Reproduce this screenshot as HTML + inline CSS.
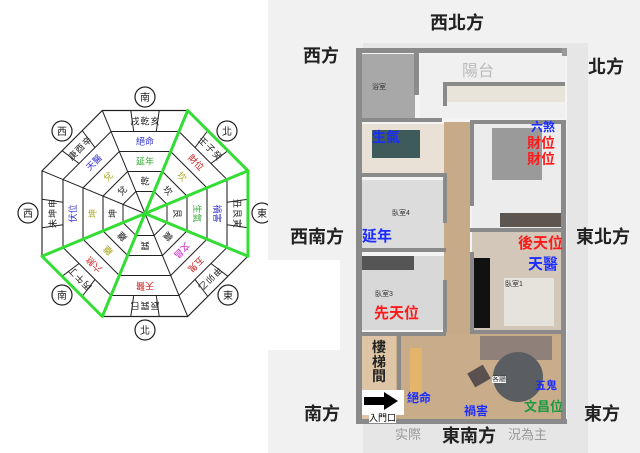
<!DOCTYPE html>
<html><head><meta charset="utf-8"><style>
*{margin:0;padding:0;box-sizing:border-box}
body{width:640px;height:453px;position:relative;overflow:hidden;background:#fff;font-family:"Liberation Sans","Noto Sans CJK TC",sans-serif}
.a{position:absolute}
.t{position:absolute;white-space:nowrap;line-height:1}
.w{position:absolute;background:#8a8a8a}
.dir{font-size:18px;color:#222;font-weight:bold}
.b{color:#1a2cff;font-weight:bold}
.r{color:#ff1a1a;font-weight:bold}
</style></head><body>
<svg class="a" style="left:0;top:0" width="270" height="453">
<defs>
<polygon id="oct" points="0.4142,-1 1,-0.4142 1,0.4142 0.4142,1 -0.4142,1 -1,0.4142 -1,-0.4142 -0.4142,-1"/>
<g id="side">
<line x1="-11.3" y1="-82" x2="-14.2" y2="-103" stroke="#222" stroke-width="1"/>
<line x1="11.3" y1="-82" x2="14.2" y2="-103" stroke="#222" stroke-width="1"/>
</g>
</defs>
<g transform="translate(145,213.5)" fill="none" stroke="#222">
<use href="#oct" transform="scale(103)" stroke-width="0.011"/>
<use href="#oct" transform="scale(82)" stroke-width="0.013"/>
<use href="#oct" transform="scale(62)" stroke-width="0.017"/>
<use href="#oct" transform="scale(42)" stroke-width="0.025"/>
<use href="#oct" transform="scale(22)" stroke-width="0.045"/>
<g stroke-width="1">
<line x1="0" y1="0" x2="42.7" y2="-103"/><line x1="0" y1="0" x2="103" y2="-42.7"/>
<line x1="0" y1="0" x2="103" y2="42.7"/><line x1="0" y1="0" x2="42.7" y2="103"/>
<line x1="0" y1="0" x2="-42.7" y2="103"/><line x1="0" y1="0" x2="-103" y2="42.7"/>
<line x1="0" y1="0" x2="-103" y2="-42.7"/><line x1="0" y1="0" x2="-42.7" y2="-103"/>
</g>
<use href="#side"/><use href="#side" transform="rotate(45)"/><use href="#side" transform="rotate(90)"/><use href="#side" transform="rotate(135)"/>
<use href="#side" transform="rotate(180)"/><use href="#side" transform="rotate(225)"/><use href="#side" transform="rotate(270)"/><use href="#side" transform="rotate(315)"/>
</g>
<g transform="translate(145,213.5)" font-size="9" text-anchor="middle" fill="#222" font-family="Noto Sans CJK TC,sans-serif">
<g transform="rotate(0)"><text x="-10" y="-89">戌</text><text x="0" y="-89">乾</text><text x="10" y="-89">亥</text><text y="-69" fill="#33c">絕命</text><text y="-49" fill="#3a3">延年</text><text y="-29">乾</text></g>
<g transform="rotate(45)"><text x="-10" y="-89">壬</text><text x="0" y="-89">子</text><text x="10" y="-89">癸</text><text y="-69" fill="#c22">財位</text><text y="-49" fill="#aa2">坎</text><text y="-29">坎</text></g>
<g transform="rotate(90)"><text x="-10" y="-89">丑</text><text x="0" y="-89">艮</text><text x="10" y="-89">寅</text><text y="-69" fill="#33c">禍害</text><text y="-49" fill="#3a3">生氣</text><text y="-29">艮</text></g>
<g transform="rotate(135)"><text x="-10" y="-89">甲</text><text x="0" y="-89">卯</text><text x="10" y="-89">乙</text><text y="-69" fill="#c22">五鬼</text><text y="-49" fill="#c2c">文昌</text><text y="-29">震</text></g>
<g transform="rotate(180)"><text x="-10" y="-89">辰</text><text x="0" y="-89">巽</text><text x="10" y="-89">巳</text><text y="-69" fill="#c22">天醫</text><text y="-29">巽</text></g>
<g transform="rotate(225)"><text x="-10" y="-89">丙</text><text x="0" y="-89">午</text><text x="10" y="-89">丁</text><text y="-69" fill="#c22">六煞</text><text y="-49" fill="#aa2">離</text><text y="-29">離</text></g>
<g transform="rotate(270)"><text x="-10" y="-89">未</text><text x="0" y="-89">坤</text><text x="10" y="-89">申</text><text y="-69" fill="#33c">伏位</text><text y="-49" fill="#aa2">坤</text><text y="-29">坤</text></g>
<g transform="rotate(315)"><text x="-10" y="-89">庚</text><text x="0" y="-89">酉</text><text x="10" y="-89">辛</text><text y="-69" fill="#33c">天醫</text><text y="-49" fill="#aa2">兌</text><text y="-29">兌</text></g>
</g>
<g fill="#fff" stroke="#222" stroke-width="1.2" font-size="10" text-anchor="middle" font-family="Noto Sans CJK TC,sans-serif">
<circle cx="145" cy="97" r="10"/><circle cx="227" cy="131" r="10"/><circle cx="262" cy="213" r="10"/><circle cx="228" cy="295" r="10"/>
<circle cx="145" cy="330" r="10"/><circle cx="62" cy="295" r="10"/><circle cx="28" cy="213" r="10"/><circle cx="62" cy="131" r="10"/>
</g>
<g font-size="10" text-anchor="middle" fill="#222" font-family="Noto Sans CJK TC,sans-serif">
<text x="145" y="101">南</text><text x="227" y="135">北</text><text x="262" y="217">東</text><text x="228" y="299">東</text>
<text x="145" y="334">北</text><text x="62" y="299">南</text><text x="28" y="217">西</text><text x="62" y="135">西</text>
</g>
<polyline points="145,213.5 187.7,110.5 248,170.8 145,213.5 248,256.2 248,170.8" fill="none" stroke="#3d3" stroke-width="3" stroke-linejoin="round"/>
<polyline points="145,213.5 42,256.2 102.3,316.5 145,213.5" fill="none" stroke="#3d3" stroke-width="3" stroke-linejoin="round"/>
</svg>

<div class="a" style="left:268px;top:0;width:372px;height:453px;background:#f1f1f1"></div>
<div class="a" style="left:268px;top:260px;width:72px;height:90px;background:#fff"></div>
<div class="a" style="left:363px;top:43px;width:225px;height:410px;background:#e6e6e6"></div>
<div class="a" style="left:356px;top:48px;width:211px;height:375px;background:#f4f4f4"></div>

<!-- floors -->
<div class="a" style="left:362px;top:54px;width:53px;height:64px;background:#a8a8a8"></div>
<div class="a" style="left:420px;top:54px;width:145px;height:64px;background:#f0f0f0"></div>
<div class="a" style="left:445px;top:84px;width:120px;height:18px;background:#e8e4da"></div>
<div class="a" style="left:362px;top:124px;width:83px;height:50px;background:#e9e1d6"></div>
<div class="a" style="left:372px;top:130px;width:48px;height:28px;background:#3f5a5a"></div>
<div class="a" style="left:362px;top:180px;width:82px;height:68px;background:#dcdcdc"></div>
<div class="a" style="left:362px;top:256px;width:82px;height:74px;background:#d8d8d8"></div>
<div class="a" style="left:362px;top:256px;width:52px;height:14px;background:#555"></div>
<div class="a" style="left:444px;top:122px;width:26px;height:212px;background:#c7ab88"></div>
<div class="a" style="left:362px;top:334px;width:203px;height:86px;background:#c9ad8b"></div>
<div class="a" style="left:362px;top:336px;width:34px;height:84px;background:#ddc5a5"></div>
<div class="a" style="left:472px;top:122px;width:93px;height:108px;background:#ececec"></div>
<div class="a" style="left:492px;top:128px;width:50px;height:52px;background:#9a9a9a"></div>
<div class="a" style="left:500px;top:213px;width:62px;height:14px;background:#5c5550"></div>
<div class="a" style="left:472px;top:232px;width:93px;height:98px;background:#d3c7ba"></div>
<div class="a" style="left:474px;top:258px;width:16px;height:70px;background:#111"></div>
<div class="a" style="left:504px;top:278px;width:50px;height:48px;background:#e6e2dc"></div>
<div class="a" style="left:480px;top:336px;width:72px;height:24px;background:#8f817a"></div>
<div class="a" style="left:462px;top:352px;width:50px;height:50px;border-radius:50%;background:#5a5d62;left:493px"></div>
<div class="a" style="left:470px;top:368px;width:18px;height:16px;background:#5a5050;transform:rotate(-30deg)"></div>
<div class="a" style="left:410px;top:348px;width:12px;height:45px;background:#e5b46b"></div>

<!-- walls -->
<div class="w" style="left:356px;top:48px;width:211px;height:5px"></div>
<div class="w" style="left:356px;top:48px;width:6px;height:375px"></div>
<div class="w" style="left:356px;top:419px;width:211px;height:5px"></div>
<div class="w" style="left:562px;top:48px;width:5px;height:8px;background:#999"></div>
<div class="w" style="left:561px;top:120px;width:5px;height:302px"></div>
<div class="w" style="left:414px;top:53px;width:5px;height:42px"></div>
<div class="w" style="left:362px;top:118px;width:80px;height:4px"></div>
<div class="w" style="left:443px;top:82px;width:122px;height:4px"></div>
<div class="w" style="left:443px;top:82px;width:4px;height:24px"></div>
<div class="w" style="left:470px;top:120px;width:95px;height:4px"></div>
<div class="w" style="left:470px;top:120px;width:4px;height:86px"></div>
<div class="w" style="left:470px;top:228px;width:95px;height:4px"></div>
<div class="w" style="left:470px;top:252px;width:4px;height:80px"></div>
<div class="w" style="left:470px;top:330px;width:95px;height:4px"></div>
<div class="w" style="left:362px;top:173px;width:84px;height:4px"></div>
<div class="w" style="left:443px;top:173px;width:4px;height:50px"></div>
<div class="w" style="left:362px;top:248px;width:84px;height:4px"></div>
<div class="w" style="left:443px;top:280px;width:4px;height:52px"></div>
<div class="w" style="left:362px;top:332px;width:84px;height:4px"></div>
<div class="w" style="left:397px;top:334px;width:4px;height:60px"></div>
<div class="a" style="left:362px;top:390px;width:42px;height:25px;background:#fff"></div>
<svg class="a" style="left:364px;top:392px" width="36" height="18"><polygon points="0,5 20,5 20,0 34,9 20,18 20,13 0,13" fill="#000"/></svg>

<!-- small room labels -->
<div class="t" style="left:372px;top:84px;font-size:7px;color:#333">浴室</div>
<div class="t" style="left:392px;top:210px;font-size:7px;color:#333">臥室4</div>
<div class="t" style="left:375px;top:291px;font-size:7px;color:#333">臥室3</div>
<div class="t" style="left:505px;top:281px;font-size:7px;color:#333">臥室1</div>
<div class="t" style="left:492px;top:376px;font-size:7px;color:#333;background:#fff">客廳</div>
<div class="t" style="left:462px;top:64px;font-size:16px;color:#bbb">陽台</div>
<div class="t" style="left:395px;top:428px;font-size:13px;color:#999">实際</div>
<div class="t" style="left:508px;top:428px;font-size:13px;color:#999">況為主</div>

<!-- direction labels -->
<div class="t dir" style="left:430px;top:14px">西北方</div>
<div class="t dir" style="left:303px;top:47px">西方</div>
<div class="t dir" style="left:588px;top:58px">北方</div>
<div class="t dir" style="left:290px;top:228px">西南方</div>
<div class="t dir" style="left:576px;top:228px">東北方</div>
<div class="t dir" style="left:304px;top:405px">南方</div>
<div class="t dir" style="left:442px;top:427px">東南方</div>
<div class="t dir" style="left:584px;top:405px">東方</div>

<!-- feng shui labels -->
<div class="t b" style="left:372px;top:130px;font-size:14px">生氣</div>
<div class="t b" style="left:362px;top:229px;font-size:15px">延年</div>
<div class="t r" style="left:374px;top:306px;font-size:15px">先天位</div>
<div class="t r" style="left:518px;top:236px;font-size:15px">後天位</div>
<div class="t b" style="left:528px;top:257px;font-size:15px">天醫</div>
<div class="t b" style="left:531px;top:121px;font-size:12px">六煞</div>
<div class="t r" style="left:527px;top:136px;font-size:14px">財位</div>
<div class="t r" style="left:527px;top:152px;font-size:14px">財位</div>
<div class="t" style="left:372px;top:340px;font-size:14px;font-weight:bold;color:#222;width:14px;white-space:normal;line-height:1.05">樓梯間</div>
<div class="t b" style="left:407px;top:392px;font-size:12px">絕命</div>
<div class="t b" style="left:464px;top:405px;font-size:12px">禍害</div>
<div class="t b" style="left:535px;top:381px;font-size:11px">五鬼</div>
<div class="t" style="left:524px;top:400px;font-size:13px;font-weight:bold;color:#1a9a40">文昌位</div>
<div class="t" style="left:369px;top:414px;font-size:9px;color:#000;background:#fff">入門口</div>
</body></html>
